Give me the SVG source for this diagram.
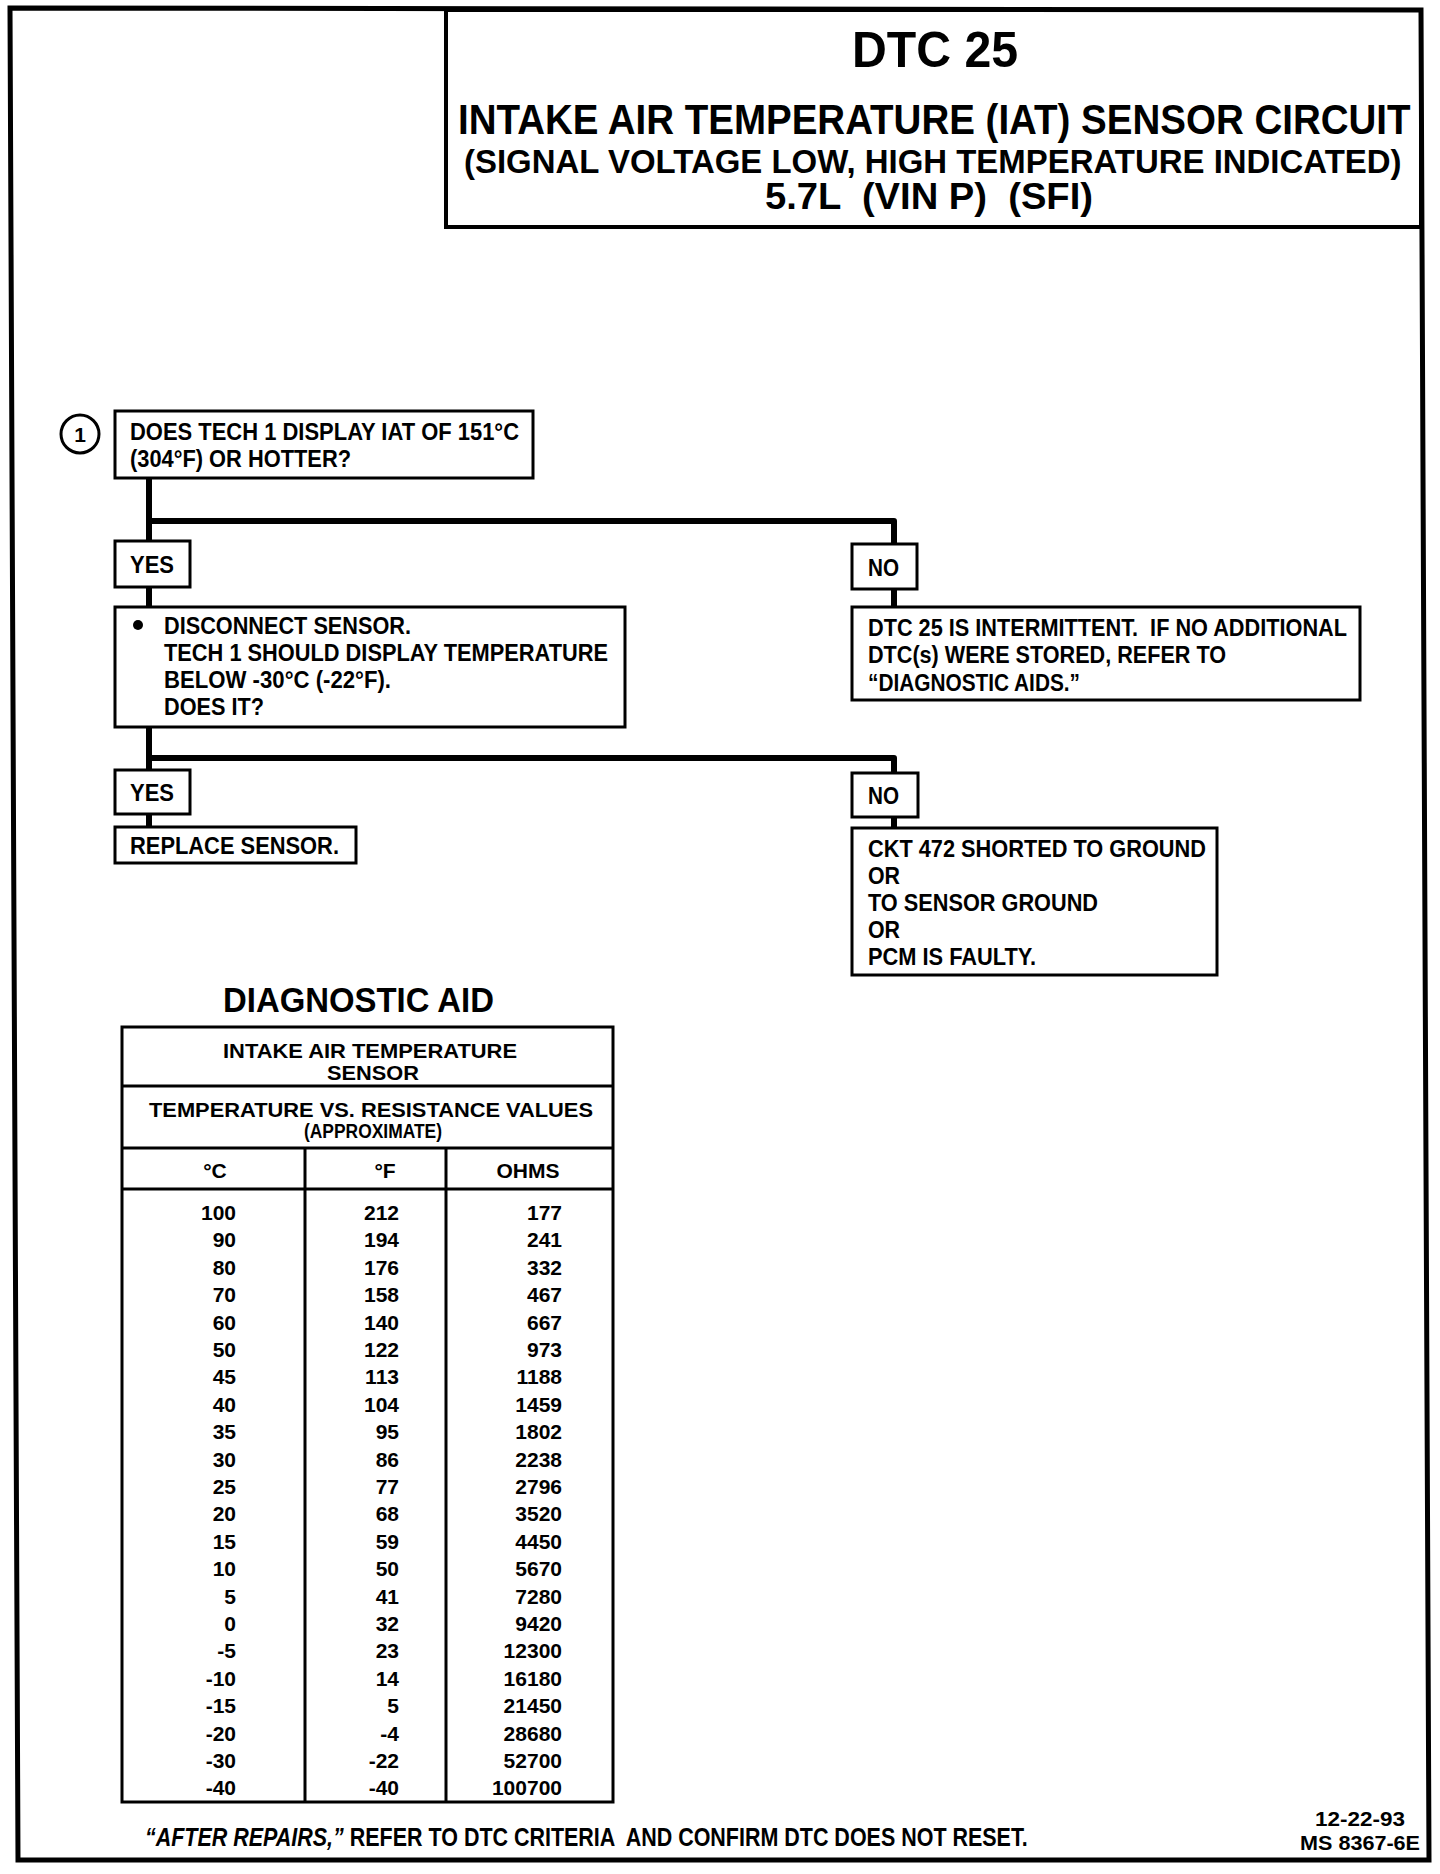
<svg xmlns="http://www.w3.org/2000/svg" width="1440" height="1874" viewBox="0 0 1440 1874">
<style>
  text { font-family: "Liberation Sans", Arial, sans-serif; font-weight: bold; fill: #000; white-space: pre; }
  .box { fill: #fff; stroke: #000; stroke-width: 3; }
  .conn { fill: none; stroke: #000; stroke-width: 6; stroke-linejoin: round; }
  .fc { font-size: 23px; }
  .th { font-size: 21px; text-anchor: middle; }
  .td { font-size: 21px; text-anchor: end; }
  .tl { fill: none; stroke: #000; stroke-width: 3; }
</style>
<rect x="0" y="0" width="1440" height="1874" fill="#fff"/>
<g id="page-border">
  <polygon points="10,8 1421,10 1429,1860 18,1860" fill="none" stroke="#000" stroke-width="5"/>
</g>
<g id="title">
  <rect x="446" y="10" width="975" height="217" fill="none" stroke="#000" stroke-width="4"/>
  <text x="852" y="67" font-size="50" textLength="166" lengthAdjust="spacingAndGlyphs">DTC 25</text>
  <text transform="translate(458,134) scale(0.917,1)" x="0" y="0" font-size="42">INTAKE AIR TEMPERATURE (IAT) SENSOR CIRCUIT</text>
  <text transform="translate(464,173) scale(0.969,1)" x="0" y="0" font-size="34">(SIGNAL VOLTAGE LOW, HIGH TEMPERATURE INDICATED)</text>
  <text x="765" y="209" font-size="36" textLength="328" lengthAdjust="spacingAndGlyphs">5.7L  (VIN P)  (SFI)</text>
</g>
<g id="connectors">
  <path class="conn" d="M149 478 V541"/>
  <path class="conn" d="M149 521 H894 V544"/>
  <path class="conn" d="M149 587 V607"/>
  <path class="conn" d="M894 589 V607"/>
  <path class="conn" d="M149 727 V770"/>
  <path class="conn" d="M149 758 H894 V773"/>
  <path class="conn" d="M149 814 V827"/>
  <path class="conn" d="M894 817 V828"/>
</g>
<g id="step-1">
  <circle cx="80" cy="434" r="19" fill="#fff" stroke="#000" stroke-width="3"/>
  <text x="80" y="442" font-size="21" text-anchor="middle">1</text>
</g>
<g id="q1">
  <rect class="box" x="115" y="411" width="418" height="67"/>
  <text class="fc" x="130" y="440" textLength="389" lengthAdjust="spacingAndGlyphs">DOES TECH 1 DISPLAY IAT OF 151°C</text>
  <text class="fc" x="130" y="467" textLength="221" lengthAdjust="spacingAndGlyphs">(304°F) OR HOTTER?</text>
</g>
<g id="yes-1">
  <rect class="box" x="115" y="541" width="75" height="46"/>
  <text class="fc" x="130" y="573" textLength="44" lengthAdjust="spacingAndGlyphs">YES</text>
</g>
<g id="no-1">
  <rect class="box" x="852" y="544" width="65" height="45"/>
  <text class="fc" x="868" y="576" textLength="31" lengthAdjust="spacingAndGlyphs">NO</text>
</g>
<g id="q2">
  <rect class="box" x="115" y="607" width="510" height="120"/>
  <circle cx="138" cy="625" r="5" fill="#000"/>
  <text class="fc" x="164" y="634" textLength="247" lengthAdjust="spacingAndGlyphs">DISCONNECT SENSOR.</text>
  <text class="fc" x="164" y="661" textLength="444" lengthAdjust="spacingAndGlyphs">TECH 1 SHOULD DISPLAY TEMPERATURE</text>
  <text class="fc" x="164" y="688" textLength="227" lengthAdjust="spacingAndGlyphs">BELOW -30°C (-22°F).</text>
  <text class="fc" x="164" y="715" textLength="100" lengthAdjust="spacingAndGlyphs">DOES IT?</text>
</g>
<g id="intermittent">
  <rect class="box" x="852" y="607" width="508" height="93"/>
  <text class="fc" x="868" y="636" textLength="479" lengthAdjust="spacingAndGlyphs">DTC 25 IS INTERMITTENT.  IF NO ADDITIONAL</text>
  <text class="fc" x="868" y="663" textLength="358" lengthAdjust="spacingAndGlyphs">DTC(s) WERE STORED, REFER TO</text>
  <text class="fc" x="868" y="691" textLength="212" lengthAdjust="spacingAndGlyphs">“DIAGNOSTIC AIDS.”</text>
</g>
<g id="yes-2">
  <rect class="box" x="115" y="770" width="75" height="44"/>
  <text class="fc" x="130" y="801" textLength="44" lengthAdjust="spacingAndGlyphs">YES</text>
</g>
<g id="no-2">
  <rect class="box" x="852" y="773" width="66" height="44"/>
  <text class="fc" x="868" y="804" textLength="31" lengthAdjust="spacingAndGlyphs">NO</text>
</g>
<g id="replace">
  <rect class="box" x="115" y="827" width="241" height="36"/>
  <text class="fc" x="130" y="854" textLength="209" lengthAdjust="spacingAndGlyphs">REPLACE SENSOR.</text>
</g>
<g id="ckt">
  <rect class="box" x="852" y="828" width="365" height="147"/>
  <text class="fc" x="868" y="857" textLength="338" lengthAdjust="spacingAndGlyphs">CKT 472 SHORTED TO GROUND</text>
  <text class="fc" x="868" y="884" textLength="32" lengthAdjust="spacingAndGlyphs">OR</text>
  <text class="fc" x="868" y="911" textLength="230" lengthAdjust="spacingAndGlyphs">TO SENSOR GROUND</text>
  <text class="fc" x="868" y="938" textLength="32" lengthAdjust="spacingAndGlyphs">OR</text>
  <text class="fc" x="868" y="965" textLength="168" lengthAdjust="spacingAndGlyphs">PCM IS FAULTY.</text>
</g>
<g id="diagnostic-aid">
  <text x="223" y="1012" font-size="35" textLength="271" lengthAdjust="spacingAndGlyphs">DIAGNOSTIC AID</text>
  <rect class="tl" x="122" y="1027" width="491" height="775"/>
  <line class="tl" x1="122" y1="1086" x2="613" y2="1086"/>
  <line class="tl" x1="122" y1="1148" x2="613" y2="1148"/>
  <line class="tl" x1="122" y1="1189" x2="613" y2="1189"/>
  <line class="tl" x1="305" y1="1148" x2="305" y2="1802"/>
  <line class="tl" x1="446" y1="1148" x2="446" y2="1802"/>
  <text class="th" x="370" y="1058" textLength="294" lengthAdjust="spacingAndGlyphs">INTAKE AIR TEMPERATURE</text>
  <text class="th" x="373" y="1080" textLength="92" lengthAdjust="spacingAndGlyphs">SENSOR</text>
  <text class="th" x="371" y="1117" textLength="444" lengthAdjust="spacingAndGlyphs">TEMPERATURE VS. RESISTANCE VALUES</text>
  <text class="th" x="373" y="1138" textLength="138" lengthAdjust="spacingAndGlyphs">(APPROXIMATE)</text>
  <text class="th" x="215" y="1178">°C</text>
  <text class="th" x="385" y="1178">°F</text>
  <text class="th" x="528" y="1178">OHMS</text>
  <g>
    <text class="td" x="236" y="1220">100</text><text class="td" x="399" y="1220">212</text><text class="td" x="562" y="1220">177</text>
    <text class="td" x="236" y="1247">90</text><text class="td" x="399" y="1247">194</text><text class="td" x="562" y="1247">241</text>
    <text class="td" x="236" y="1275">80</text><text class="td" x="399" y="1275">176</text><text class="td" x="562" y="1275">332</text>
    <text class="td" x="236" y="1302">70</text><text class="td" x="399" y="1302">158</text><text class="td" x="562" y="1302">467</text>
    <text class="td" x="236" y="1330">60</text><text class="td" x="399" y="1330">140</text><text class="td" x="562" y="1330">667</text>
    <text class="td" x="236" y="1357">50</text><text class="td" x="399" y="1357">122</text><text class="td" x="562" y="1357">973</text>
    <text class="td" x="236" y="1384">45</text><text class="td" x="399" y="1384">113</text><text class="td" x="562" y="1384">1188</text>
    <text class="td" x="236" y="1412">40</text><text class="td" x="399" y="1412">104</text><text class="td" x="562" y="1412">1459</text>
    <text class="td" x="236" y="1439">35</text><text class="td" x="399" y="1439">95</text><text class="td" x="562" y="1439">1802</text>
    <text class="td" x="236" y="1467">30</text><text class="td" x="399" y="1467">86</text><text class="td" x="562" y="1467">2238</text>
    <text class="td" x="236" y="1494">25</text><text class="td" x="399" y="1494">77</text><text class="td" x="562" y="1494">2796</text>
    <text class="td" x="236" y="1521">20</text><text class="td" x="399" y="1521">68</text><text class="td" x="562" y="1521">3520</text>
    <text class="td" x="236" y="1549">15</text><text class="td" x="399" y="1549">59</text><text class="td" x="562" y="1549">4450</text>
    <text class="td" x="236" y="1576">10</text><text class="td" x="399" y="1576">50</text><text class="td" x="562" y="1576">5670</text>
    <text class="td" x="236" y="1604">5</text><text class="td" x="399" y="1604">41</text><text class="td" x="562" y="1604">7280</text>
    <text class="td" x="236" y="1631">0</text><text class="td" x="399" y="1631">32</text><text class="td" x="562" y="1631">9420</text>
    <text class="td" x="236" y="1658">-5</text><text class="td" x="399" y="1658">23</text><text class="td" x="562" y="1658">12300</text>
    <text class="td" x="236" y="1686">-10</text><text class="td" x="399" y="1686">14</text><text class="td" x="562" y="1686">16180</text>
    <text class="td" x="236" y="1713">-15</text><text class="td" x="399" y="1713">5</text><text class="td" x="562" y="1713">21450</text>
    <text class="td" x="236" y="1741">-20</text><text class="td" x="399" y="1741">-4</text><text class="td" x="562" y="1741">28680</text>
    <text class="td" x="236" y="1768">-30</text><text class="td" x="399" y="1768">-22</text><text class="td" x="562" y="1768">52700</text>
    <text class="td" x="236" y="1795">-40</text><text class="td" x="399" y="1795">-40</text><text class="td" x="562" y="1795">100700</text>
  </g>
</g>
<g id="footer">
  <text transform="translate(145,1846) scale(0.859,1)" x="0" y="0" font-size="25"><tspan font-style="italic">“AFTER REPAIRS,”</tspan> REFER TO DTC CRITERIA  AND CONFIRM DTC DOES NOT RESET.</text>
  <text x="1360" y="1826" font-size="21" text-anchor="middle" textLength="90" lengthAdjust="spacingAndGlyphs">12-22-93</text>
  <text x="1360" y="1850" font-size="21" text-anchor="middle" textLength="120" lengthAdjust="spacingAndGlyphs">MS 8367-6E</text>
</g>
</svg>
